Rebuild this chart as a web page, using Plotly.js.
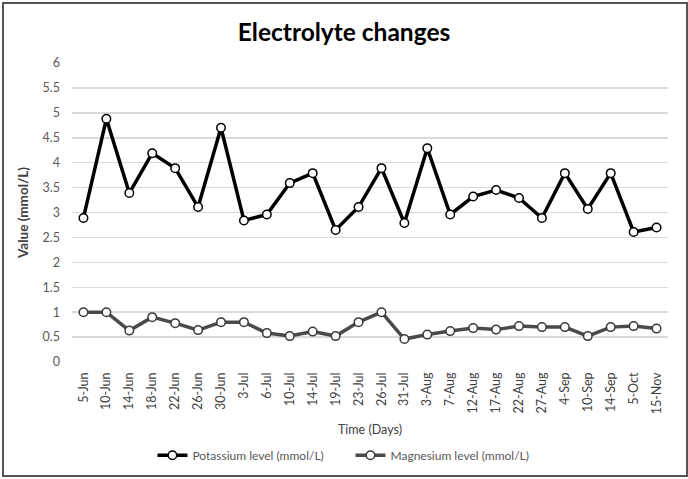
<!DOCTYPE html>
<html>
<head>
<meta charset="utf-8">
<script src="https://cdn.plot.ly/plotly-3.0.1.min.js"></script>
<style>
html,body{margin:0;padding:0;background:#fff;}
#wrap{position:relative;width:688px;height:479px;}
#chart{width:688px;height:479px;}
#frame{position:absolute;left:2px;top:2px;width:682px;height:471px;border:2px solid #555;pointer-events:none;}
</style>
</head>
<body>
<div id="wrap"><div id="chart"></div><div id="frame"></div></div>
<script>
const dates = ["5-Jun","10-Jun","14-Jun","18-Jun","22-Jun","26-Jun","30-Jun","3-Jul","6-Jul","10-Jul","14-Jul","19-Jul","23-Jul","26-Jul","31-Jul","3-Aug","7-Aug","12-Aug","17-Aug","22-Aug","27-Aug","4-Sep","10-Sep","14-Sep","5-Oct","15-Nov"];
const potassium = [2.89,4.88,3.39,4.19,3.89,3.11,4.70,2.84,2.96,3.59,3.79,2.65,3.11,3.89,2.79,4.29,2.96,3.32,3.45,3.29,2.89,3.79,3.07,3.79,2.61,2.70];
const magnesium = [1.00,1.00,0.63,0.90,0.78,0.64,0.80,0.80,0.58,0.52,0.61,0.52,0.80,1.00,0.46,0.55,0.62,0.68,0.65,0.72,0.70,0.70,0.52,0.70,0.72,0.67];
const yTicks = [0,0.5,1,1.5,2,2.5,3,3.5,4,4.5,5,5.5,6];

const font = "Lato, 'Open Sans', sans-serif";
const traces = [
  {x: dates, y: potassium, name: "Potassium level (mmol/L)", type: "scatter", mode: "lines+markers",
   line: {color: "#000000", width: 3.5},
   marker: {symbol: "circle", size: 8.5, color: "#ffffff", line: {color: "#000000", width: 1.5}}},
  {x: dates, y: magnesium, name: "Magnesium level (mmol/L)", type: "scatter", mode: "lines+markers",
   line: {color: "#4a4a4a", width: 3.5},
   marker: {symbol: "circle", size: 8.5, color: "#ffffff", line: {color: "#3a3a3a", width: 1.5}}}
];
const layout = {
  width: 688, height: 479,
  margin: {l: 72, r: 20, t: 63, b: 117, autoexpand: false},
  paper_bgcolor: "#ffffff", plot_bgcolor: "#ffffff",
  font: {family: font, color: "#595959", size: 12},
  title: {text: "<b>Electrolyte changes</b>", font: {family: font, size: 24.5, color: "#000000"}, x: 0.5, xanchor: "center", y: 0.933, yanchor: "middle"},
  showlegend: true,
  legend: {orientation: "h", x: 0.135, xanchor: "left", y: -0.312, yanchor: "middle",
    font: {family: font, size: 12, color: "#595959"}, itemwidth: 30, entrywidth: 153, entrywidthmode: "pixels"},
  xaxis: {type: "category", categoryorder: "array", categoryarray: dates, range: [-0.5, dates.length - 0.5],
    automargin: false,
    tickangle: -90, showgrid: false, showline: false, zeroline: false, ticks: "", ticklabelstandoff: 7,
    tickfont: {family: font, size: 12.5, color: "#404040"},
    title: {text: "Time (Days)", font: {family: font, size: 12.5, color: "#404040"}, standoff: 11}},
  yaxis: {range: [0, 6], tickvals: yTicks, ticktext: yTicks.map(String), showgrid: true, gridcolor: "#d9d9d9", gridwidth: 1.5,
    automargin: false,
    zeroline: false, showline: false, ticks: "", ticklabelstandoff: 11,
    tickfont: {family: font, size: 12.5, color: "#595959"},
    title: {text: "<b>Value (mmol/L)</b>", font: {family: font, size: 13.5, color: "#404040"}, standoff: 10}}
};
Plotly.newPlot("chart", traces, layout, {displayModeBar: false, staticPlot: true});
</script>
</body>
</html>
